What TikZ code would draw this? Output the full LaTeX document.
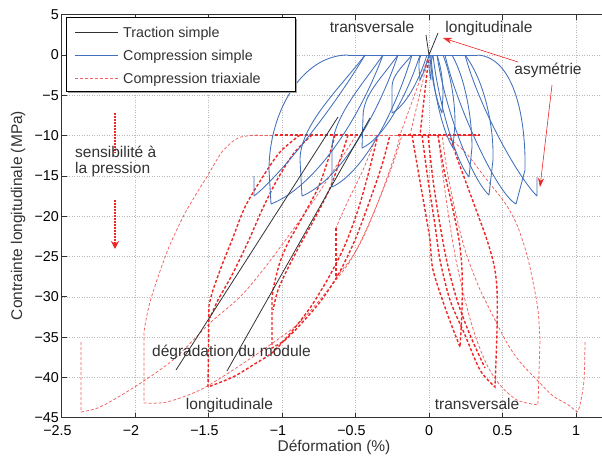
\documentclass[tikz,border=0pt]{standalone}
\usepackage{fontspec}
\setmainfont{Liberation Sans}
\usetikzlibrary{arrows.meta}
\definecolor{cblue}{RGB}{66,112,188}
\definecolor{cred}{RGB}{238,38,38}
\definecolor{cpink}{RGB}{242,95,95}
\definecolor{cdark}{RGB}{50,50,50}
\begin{document}
\begin{tikzpicture}[x=1pt,y=-1pt,
  gridline/.style={gray!55, line width=0.5pt, dash pattern=on 1pt off 1.5pt},
  axisline/.style={cdark, line width=0.8pt},
  blueline/.style={cblue, line width=0.85pt, line join=round},
  thinred/.style={cpink, line width=0.75pt, dash pattern=on 3pt off 2pt},
  thickred/.style={cred, line width=1.4pt, dash pattern=on 3pt off 2pt},
  blackline/.style={cdark, line width=0.8pt},
  lbl/.style={font=\fontsize{15.5}{15.5}\selectfont, text=cdark, inner sep=0pt},
  axlbl/.style={font=\fontsize{15.5}{15.5}\selectfont, text=cdark, inner sep=0pt},
  leglbl/.style={font=\fontsize{14.3}{16}\selectfont, text=cdark, inner sep=0pt},
  ticklbl/.style={font=\fontsize{14.3}{16}\selectfont, text=black, inner sep=0pt},
  redarrow/.style={cred, line width=0.6pt, -{Stealth[length=9pt,width=6pt]}},
  dotarrow/.style={cred, line width=1.6pt, dash pattern=on 1.5pt off 1.5pt},
]
\useasboundingbox (0,0) rectangle (602,455);
\fill[white] (0,0) rectangle (602,455);
\begin{scope}
\clip (0,0) rectangle (602,455);
% grid
\foreach \x in {135,208.5,282,355.5,429,502.5,576}
  \draw[gridline] (\x,14.7) -- (\x,417.7);
\foreach \y in {55,95.3,135.6,175.9,216.2,256.5,296.8,337.1,377.4}
  \draw[gridline] (61.5,\y) -- (602,\y);
% axes
\draw[axisline] (610,14.7) -- (61.5,14.7) -- (61.5,417.7) -- (610,417.7);
\foreach \x in {135,208.5,282,355.5,429,502.5,576}{
  \draw[axisline] (\x,417.7) -- (\x,412.7);
  \draw[axisline] (\x,14.7) -- (\x,19.7);}
\foreach \y in {55,95.3,135.6,175.9,216.2,256.5,296.8,337.1,377.4}
  \draw[axisline] (61.5,\y) -- (66.5,\y);

% ---------------- red: compression triaxiale ----------------
\draw[thinred] (429,55) -- (400,135);
\draw[thinred] (429,55) -- (410,135);
\draw[thickred] (429,55) -- (420,135);
\draw[thinred] (255,135) -- (480,135);
\draw[thickred] (275,135) -- (365,135);
\draw[thickred] (398,135) -- (480,135);
% loop A
\draw[thinred] plot[smooth] coordinates {(258,135) (238,138) (222,152) (208,175) (195,196) (183,217) (169,247) (158,277) (150,302) (146,320) (144,332)}
  -- (144,403) -- plot[smooth] coordinates {(144,403) (167,402) (200,390) (233,370) (267,347) (300,322) (336,280) (352,258) (367,228) (385,185) (396,155) (402,135)};
% loop B
\draw[thinred] (81,342) -- (81,412) -- plot[smooth] coordinates {(81,412) (100,407) (133,388) (173,360) (210,323) (240,297) (263,270) (287,238) (312,203) (335,168) (350,145) (356,135)};
% loop C
\draw[thickred] plot[smooth] coordinates {(300,135) (280,152) (262,178) (245,207) (232,240) (222,265) (213,290) (209,305)}
  -- (208,387) -- plot[smooth] coordinates {(208,387) (233,377) (253,365) (273,352) (293,330) (312,305) (330,275) (345,245) (358,210) (368,175) (375,147) (378,135)};
\draw[thickred] plot[smooth] coordinates {(312,135) (294,153) (277,180) (262,210) (248,242) (232,275) (218,300) (210,318)};
% loop D
\draw[thickred] plot[smooth] coordinates {(335,135) (328,160) (318,188) (302,218) (288,243) (280,262) (274,285) (272,297)}
  -- (272,348) -- plot[smooth] coordinates {(272,348) (285,340) (300,325) (320,302) (338,275) (355,240) (370,200) (382,165) (390,135)};
\draw[thickred] plot[smooth] coordinates {(348,135) (340,160) (330,188) (315,218) (300,245) (288,268) (278,290) (273,310)};
% loop E
\draw[thinred] plot[smooth] coordinates {(377,135) (363,170) (347,203) (336,228)};
\draw[thickred] (336,228) -- (336,277);
\draw[thinred] plot[smooth] coordinates {(336,277) (350,260) (362,240) (375,210) (388,175) (397,148) (400,135)};
% right loops
\draw[thinred] plot[smooth] coordinates {(445,135) (465,152) (487,180) (505,203) (517,225) (527,255) (533,282) (538,310) (540,340)}
  -- (538,405) -- plot[smooth] coordinates {(538,405) (517,400) (500,385) (487,365) (475,335) (465,300) (455,255) (447,205) (441,160) (438,135)};
\draw[thinred] plot[smooth] coordinates {(585,342) (584,380) (580,405) (577,412)}
  -- plot[smooth] coordinates {(577,412) (567,404) (553,396) (537,380) (520,362) (507,343) (490,310) (478,285) (465,250) (455,210) (447,170) (442,135)};
\draw[thickred] plot[smooth] coordinates {(422,135) (428,180) (435,225) (440,260) (450,300) (465,335) (480,370) (495,387)}
  -- plot[smooth] coordinates {(495,387) (497,330) (497,290) (494,265) (487,240) (478,215) (467,185) (456,155) (450,135)};
\draw[thickred] plot[smooth] coordinates {(412,135) (418,170) (425,210) (430,240) (433,270) (447,313) (460,347)}
  -- plot[smooth] coordinates {(460,347) (462,310) (462,270) (459,240) (452,205) (444,170) (438,135)};
\draw[thickred] plot[smooth] coordinates {(428,135) (433,180) (440,225) (447,262) (457,300) (470,335) (485,368)};

% ---------------- blue: compression simple ----------------
\draw[blueline] (348,55) -- (478,55);
\draw[blueline] (348,55) .. controls (302,55) and (269,112) .. (269,170) -- (271,204) .. controls (310,189) and (355,130) .. (383,55);
\draw[blueline] (254,176) -- (254,196) .. controls (280,176) and (335,106) .. (365,55);
\draw[blueline] (365,55) .. controls (340,88) and (300,125) .. (300,160) -- (302,196) .. controls (336,182) and (374,125) .. (398,55);
\draw[blueline] (383,55) .. controls (362,85) and (332,118) .. (332,150) -- (332,187) .. controls (360,174) and (392,121) .. (412,55);
\draw[blueline] (398,55) .. controls (380,80) and (363,95) .. (363,117) -- (362,148) .. controls (382,139) and (405,101) .. (420,55);
\draw[blueline] (412,55) .. controls (401,68) and (392,76) .. (392,87) -- (392,113) .. controls (404,107) and (418,84) .. (427,55);
\draw[blueline] (421,55) .. controls (419,60) .. (419,68) -- (420,80) .. controls (424,72) .. (429,55);
\draw[blueline] (478,55) .. controls (515,58) and (526,120) .. (525,170) -- (516,204) .. controls (495,192) and (455,100) .. (445,55);
\draw[blueline] (537,177) -- (537,196) .. controls (520,180) and (480,110) .. (465,55);
\draw[blueline] (465,55) .. controls (484,80) and (494,125) .. (493,160) -- (489,195) .. controls (472,180) and (445,110) .. (437,55);
\draw[blueline] (452,55) .. controls (466,80) and (472,120) .. (472,147) -- (469,177) .. controls (455,160) and (438,100) .. (433,55);
\draw[blueline] (443,55) .. controls (452,78) and (455,105) .. (455,123) -- (453,148) .. controls (442,130) and (433,90) .. (431,55);
\draw[blueline] (437,55) .. controls (442,70) and (443,85) .. (443,95) -- (442,113) .. controls (436,100) and (431,75) .. (430,55);
\draw[blueline] (433,55) .. controls (431,62) .. (431,70) -- (431,80) .. controls (429,70) .. (429,55);

% ---------------- black: traction simple ----------------
\draw[blackline] (176,370) -- (338,117);
\draw[blackline] (227,371) -- (370,118);
\draw[blackline] (426,35) -- (429,55) -- (438,33);
\end{scope}

% annotations
\draw[redarrow] (518,62) -- (443,38);
\draw[redarrow] (552,85) -- (540,187);
\draw[dotarrow] (115,113) -- (115,153);
\draw[dotarrow, -{Stealth[length=8pt,width=8pt]}] (115,200) -- (115,249);

% legend
\fill[gray!75] (68,19) rectangle (297,93);
\draw[fill=white, line width=0.8pt] (66,17) rectangle (295,91);
\draw[blackline] (75,32) -- (118,32);
\draw[blueline] (75,55) -- (118,55);
\draw[thinred] (75,78) -- (118,78);
\node[leglbl, anchor=base west] (leg1) at (123,37) {Traction simple};
\node[leglbl, anchor=base west] (leg2) at (123,60) {Compression simple};
\node[leglbl, anchor=base west] (leg3) at (123,83) {Compression triaxiale};

% tick labels
\foreach \x/\t in {57.5/−2.5,131/−2,204.5/−1.5,278/−1,351.5/−0.5,429/0,502.5/0.5,576/1}
  \node[ticklbl, anchor=north] at (\x,425) {\t};
\foreach \y/\t in {14.7/5,55/0,95.3/−5,135.6/−10,175.9/−15,216.2/−20,256.5/−25,296.8/−30,337.1/−35,377.4/−40,417.7/−45}
  \node[ticklbl, anchor=east] at (59,\y) {\t};

% text labels
\node[lbl, anchor=base] (ttr) at (372,32) {transversale};
\node[lbl, anchor=base] (tlo) at (489,32) {longitudinale};
\node[lbl, anchor=base] (asy) at (548,74) {asymétrie};
\node[lbl, anchor=base west, align=left] (sens) at (75,173) {sensibilité à\\la pression};
\node[lbl, anchor=base west] (deg) at (152,356) {dégradation du module};
\node[lbl, anchor=base] (blo) at (229.5,409) {longitudinale};
\node[lbl, anchor=base] (btr) at (477,409) {transversale};
\node[axlbl, anchor=base] (xlab) at (334,451) {Déformation (\%)};
\node[axlbl, anchor=base, rotate=90] (ylab) at (22,215.5) {Contrainte longitudinale (MPa)};
\end{tikzpicture}
\end{document}
